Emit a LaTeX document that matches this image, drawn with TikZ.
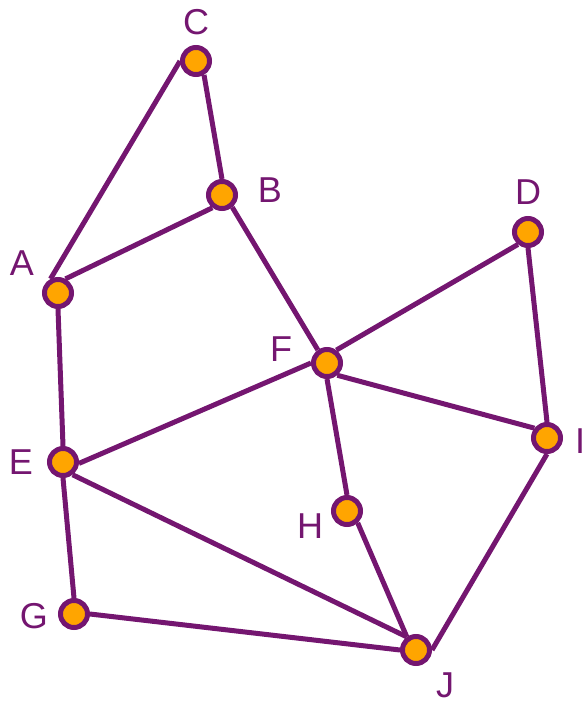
\documentclass[tikz,border=0pt]{standalone}
\usepackage{fontspec}
\setmainfont{Liberation Sans}
\definecolor{vpurple}{RGB}{116,22,112}
\definecolor{vorange}{RGB}{255,165,0}
\tikzset{
  vtx/.style={circle, draw=vpurple, fill=vorange, line width=5pt, minimum size=27pt, inner sep=0pt},
  lbl/.style={text=vpurple, font=\fontsize{36}{40}\selectfont, inner sep=0pt, anchor=center},
  edge/.style={draw=vpurple, line width=5pt}
}
\begin{document}
\begin{tikzpicture}[x=1pt, y=-1pt]
\useasboundingbox (0,0) rectangle (582,702);
% vertices
\node[vtx] (C) at (196,61) {};
\node[vtx] (B) at (222,195) {};
\node[vtx] (A) at (58,293) {};
\node[vtx] (D) at (528,232) {};
\node[vtx] (F) at (327,363) {};
\node[vtx] (E) at (63,462) {};
\node[vtx] (I) at (547,438) {};
\node[vtx] (H) at (347,511) {};
\node[vtx] (G) at (74,614) {};
\node[vtx] (J) at (416,650) {};
% labels
\node[lbl] (lC) at (196,22) {C};
\node[lbl] (lB) at (270,190) {B};
\node[lbl] (lA) at (22,263) {A};
\node[lbl] (lD) at (528,192) {D};
\node[lbl] (lF) at (281,349) {F};
\node[lbl] (lE) at (21,462) {E};
\node[lbl] (lI) at (580,441) {I};
\node[lbl] (lH) at (310,526) {H};
\node[lbl] (lG) at (34,616) {G};
\node[lbl] (lJ) at (445,685) {J};
% edges
\path[edge] (A.118) -- (C.180);
\path[edge] (C.300) -- (B.90);
\path[edge] (A.62) -- (B.233);
\path[edge] (B.310) -- (F.125);
\path[edge] (F.54) -- (D.231);
\path[edge] (D.270) -- (I.90);
\path[edge] (F.310) -- (I.142);
\path[edge] (F.270) -- (H.90);
\path[edge] (E.355) -- (F.180);
\path[edge] (A.270) -- (E.90);
\path[edge] (E.307) -- (J.125);
\path[edge] (E.270) -- (G.90);
\path[edge] (G.0) -- (J.180);
\path[edge] (H.312) -- (J.125);
\path[edge] (I.270) -- (J.0);
\end{tikzpicture}
\end{document}
